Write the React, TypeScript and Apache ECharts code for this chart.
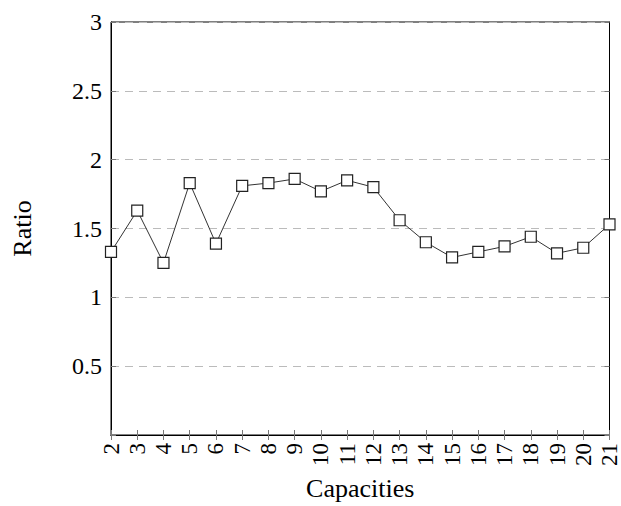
import React, { useEffect, useRef } from "react";
import * as echarts from "echarts";

const capacities = ["2","3","4","5","6","7","8","9","10","11","12","13","14","15","16","17","18","19","20","21"];
const ratios = [1.33, 1.63, 1.25, 1.83, 1.39, 1.81, 1.83, 1.86, 1.77, 1.85, 1.80, 1.56, 1.40, 1.29, 1.33, 1.37, 1.44, 1.32, 1.36, 1.53];
const yTicks = { min: 0, max: 3, interval: 0.5 };

const FONT = "'Liberation Serif', 'DejaVu Serif', serif";

export default function App() {
  const ref = useRef<HTMLDivElement>(null);
  useEffect(() => {
    if (!ref.current) return;
    const chart = echarts.init(ref.current, null, { renderer: "svg" });
    const tickStyle = { show: true, inside: true, length: 5, lineStyle: { color: "#777", width: 1 } };
    chart.setOption({
      animation: false,
      backgroundColor: "#fff",
      grid: { left: 111, right: 10, top: 22, bottom: 69, show: true, borderColor: "#000", borderWidth: 1, backgroundColor: "transparent" },
      xAxis: [
        {
          type: "category",
          data: capacities,
          boundaryGap: false,
          position: "bottom",
          axisLine: { show: true, lineStyle: { color: "#000", width: 1 } },
          axisTick: { ...tickStyle, alignWithLabel: true },
          axisLabel: { rotate: 90, margin: 8, fontFamily: FONT, fontSize: 23, color: "#000", interval: 0 },
          splitLine: { show: false },
          name: "Capacities",
          nameLocation: "middle",
          nameGap: 40,
          nameTextStyle: { fontFamily: FONT, fontSize: 26, color: "#000" },
        },
        {
          type: "category",
          data: capacities,
          boundaryGap: false,
          position: "top",
          axisLine: { show: true, lineStyle: { color: "#000", width: 1 } },
          axisTick: { ...tickStyle },
          axisLabel: { show: false },
          splitLine: { show: false },
        },
      ],
      yAxis: [
        {
          type: "value",
          min: yTicks.min,
          max: yTicks.max,
          interval: yTicks.interval,
          position: "left",
          axisLine: { show: true, lineStyle: { color: "#000", width: 1 } },
          axisTick: tickStyle,
          axisLabel: {
            margin: 9,
            fontFamily: FONT,
            fontSize: 24,
            color: "#000",
            formatter: (v: number) => (v === 0 ? "" : String(v)),
          },
          splitLine: { show: true, lineStyle: { color: "#bbb", width: 1, type: [8, 6] } },
          name: "Ratio",
          nameLocation: "middle",
          nameGap: 76,
          nameTextStyle: { fontFamily: FONT, fontSize: 26, color: "#000" },
        },
        {
          type: "value",
          min: yTicks.min,
          max: yTicks.max,
          interval: yTicks.interval,
          position: "right",
          axisLine: { show: true, lineStyle: { color: "#000", width: 1 } },
          axisTick: tickStyle,
          axisLabel: { show: false },
          splitLine: { show: false },
        },
      ],
      series: [
        {
          type: "line",
          data: ratios,
          xAxisIndex: 0,
          yAxisIndex: 0,
          symbol: "rect",
          symbolSize: 11,
          lineStyle: { color: "#333", width: 1 },
          itemStyle: { color: "#fff", borderColor: "#222", borderWidth: 1.2 },
          z: 5,
        },
      ],
    });
    return () => chart.dispose();
  }, []);
  return <div ref={ref} style={{ position: "absolute", left: 0, top: 0, width: 621, height: 506 }} />;
}
